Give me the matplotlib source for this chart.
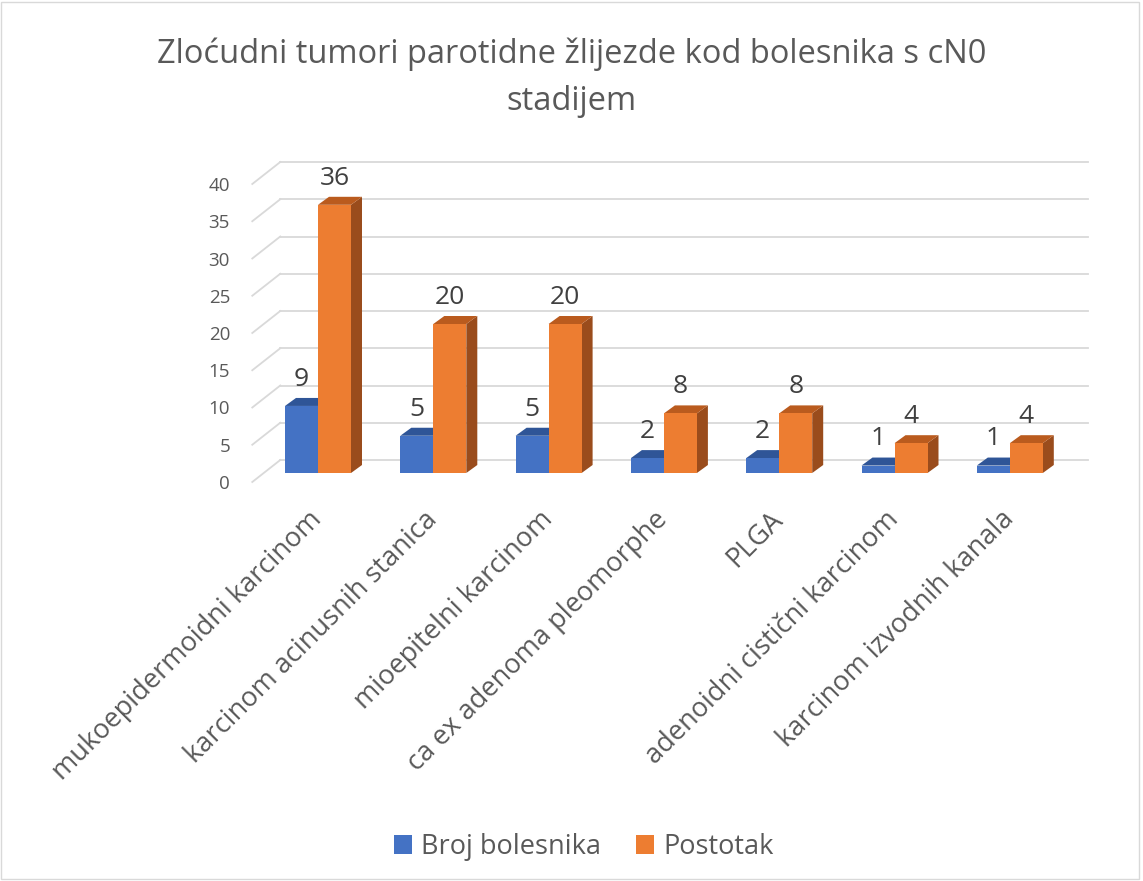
import numpy as np
import matplotlib.pyplot as plt
from matplotlib.patches import Polygon, Rectangle, Patch

plt.rcParams['font.family'] = ['Open Sans', 'DejaVu Sans']

# data
categories = ["mukoepidermoidni karcinom", "karcinom acinusnih stanica",
              "mioepitelni karcinom", "ca ex adenoma pleomorphe", "PLGA",
              "adenoidni cistični karcinom", "karcinom izvodnih kanala"]
broj = [9, 5, 5, 2, 2, 1, 1]
postotak = [36, 20, 20, 8, 8, 4, 4]
yticks = [0, 5, 10, 15, 20, 25, 30, 35, 40]

blue, blue_top = "#4472C4", "#2F5597"
orange, orange_top, orange_side = "#ED7D31", "#BA5B1E", "#9A4C1C"
grid_c = "#D9D9D9"
txt_c = "#595959"

W, H = 1143, 881
fig = plt.figure(figsize=(W / 100, H / 100), dpi=100)

# pixel layout of the plot (front edge)
px_c0, px_cat = 318, 115.3      # first group centre, pixels per category
py_0, py_unit = 482, 7.45       # front baseline, pixels per unit
xl, xr = -0.57, 6.68
yl, yt = 0, 44
ax = fig.add_axes([(px_c0 + xl * px_cat) / W, (H - py_0) / H,
                   (xr - xl) * px_cat / W, (yt - yl) * py_unit / H])
ax.set_xlim(xl, xr)
ax.set_ylim(yl, yt)
for s in ax.spines.values():
    s.set_visible(False)

# back wall + floor depth
Dx, Dy = 28 / px_cat, 22 / py_unit
for v in yticks:
    ax.plot([xl + Dx, xr], [v + Dy, v + Dy], color=grid_c, lw=1.3, zorder=1, clip_on=False)
    ax.plot([xl, xl + Dx], [v, v + Dy], color=grid_c, lw=1.3, zorder=1, clip_on=False)

# 3d bars
bw = 33 / px_cat
base = 9 / py_unit
bdx, bdy = 11 / px_cat, 8 / py_unit

def bar3d(x0, h, front, top, side):
    x1 = x0 + bw
    y0, y1 = base, base + h
    ax.add_patch(Polygon([(x1, y0), (x1, y1), (x1 + bdx, y1 + bdy), (x1 + bdx, y0 + bdy)],
                         closed=True, facecolor=side, edgecolor='none', zorder=3, clip_on=False))
    ax.add_patch(Polygon([(x0, y1), (x1, y1), (x1 + bdx, y1 + bdy), (x0 + bdx, y1 + bdy)],
                         closed=True, facecolor=top, edgecolor='none', zorder=3, clip_on=False))
    ax.add_patch(Rectangle((x0, y0), bw, h, facecolor=front, edgecolor='none', zorder=3, clip_on=False))

x = np.arange(len(categories))
for i in range(len(categories)):
    bar3d(x[i] - bw, broj[i], blue, blue_top, blue_top)
    bar3d(x[i], postotak[i], orange, orange_top, orange_side)
    ax.annotate(str(broj[i]), (x[i] - bw / 2, base + broj[i] + bdy), xytext=(0, 13.5),
                textcoords='offset points', ha='center', va='center',
                fontsize=19, color='#404040', zorder=5)
    ax.annotate(str(postotak[i]), (x[i] + bw / 2, base + postotak[i] + bdy), xytext=(0, 13.5),
                textcoords='offset points', ha='center', va='center',
                fontsize=19, color='#404040', zorder=5)

ax.set_yticks(yticks)
ax.set_yticklabels([str(v) for v in yticks], fontsize=13.5, color=txt_c)
ax.tick_params(axis='y', length=0, pad=16)
ax.set_xticks(x)
ax.set_xticklabels(categories, fontsize=19.5, color=txt_c, rotation=45,
                   ha='right', va='center', rotation_mode='anchor')
ax.tick_params(axis='x', length=0, pad=24)

# title
fig.text(0.5, 1 - 54 / H, "Zloćudni tumori parotidne žlijezde kod bolesnika s cN0",
         ha='center', va='center', fontsize=23.5, color=txt_c)
fig.text(0.5, 1 - 102 / H, "stadijem", ha='center', va='center', fontsize=23.5, color=txt_c)

# legend
handles = [Patch(facecolor=blue, label="Broj bolesnika"),
           Patch(facecolor=orange, label="Postotak")]
fig.legend(handles=handles, loc='center', bbox_to_anchor=(584 / W, 1 - 847 / H),
           ncol=2, frameon=False, fontsize=19.5, labelcolor=txt_c,
           handlelength=0.65, handleheight=0.65, handletextpad=0.35, columnspacing=1.3)

# outer border
fig.patches.append(Rectangle((1 / W, 2 / H), 1138 / W, 877 / H, transform=fig.transFigure,
                             fill=False, edgecolor=grid_c, lw=1))

fig.savefig("out.png", dpi=100)
